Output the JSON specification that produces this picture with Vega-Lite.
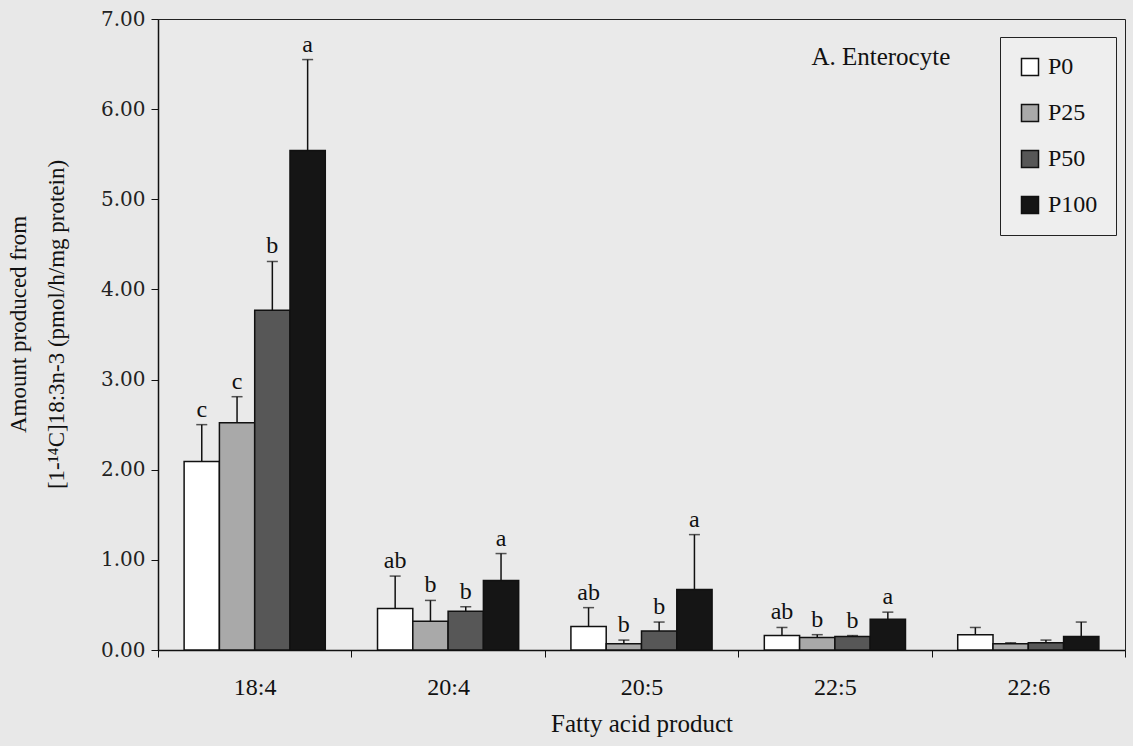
{
  "$schema": "https://vega.github.io/schema/vega-lite/v6.json",
  "autosize": {"type": "none"},
  "width": 967,
  "height": 631,
  "padding": {"left": 158, "top": 19, "right": 8, "bottom": 96},
  "background": "#e8e8e8",
  "config": {
    "view": {"stroke": "#222222", "strokeWidth": 1, "fill": "#eaeaea"},
    "font": "Liberation Serif"
  },
  "datasets": {
    "products": [
      {"product": "18:4", "diet": "P0", "value": 2.09, "err": 2.50, "label": "c"},
      {"product": "18:4", "diet": "P25", "value": 2.52, "err": 2.81, "label": "c"},
      {"product": "18:4", "diet": "P50", "value": 3.77, "err": 4.31, "label": "b"},
      {"product": "18:4", "diet": "P100", "value": 5.54, "err": 6.55, "label": "a"},
      {"product": "20:4", "diet": "P0", "value": 0.46, "err": 0.82, "label": "ab"},
      {"product": "20:4", "diet": "P25", "value": 0.32, "err": 0.55, "label": "b"},
      {"product": "20:4", "diet": "P50", "value": 0.43, "err": 0.48, "label": "b"},
      {"product": "20:4", "diet": "P100", "value": 0.77, "err": 1.07, "label": "a"},
      {"product": "20:5", "diet": "P0", "value": 0.26, "err": 0.47, "label": "ab"},
      {"product": "20:5", "diet": "P25", "value": 0.07, "err": 0.11, "label": "b"},
      {"product": "20:5", "diet": "P50", "value": 0.21, "err": 0.31, "label": "b"},
      {"product": "20:5", "diet": "P100", "value": 0.67, "err": 1.28, "label": "a"},
      {"product": "22:5", "diet": "P0", "value": 0.16, "err": 0.25, "label": "ab"},
      {"product": "22:5", "diet": "P25", "value": 0.14, "err": 0.17, "label": "b"},
      {"product": "22:5", "diet": "P50", "value": 0.15, "err": 0.16, "label": "b"},
      {"product": "22:5", "diet": "P100", "value": 0.34, "err": 0.42, "label": "a"},
      {"product": "22:6", "diet": "P0", "value": 0.17, "err": 0.25, "label": ""},
      {"product": "22:6", "diet": "P25", "value": 0.07, "err": 0.08, "label": ""},
      {"product": "22:6", "diet": "P50", "value": 0.08, "err": 0.11, "label": ""},
      {"product": "22:6", "diet": "P100", "value": 0.15, "err": 0.31, "label": ""}
    ],
    "panel": [{"note": "A. Enterocyte"}]
  },
  "layer": [
    {
      "data": {"name": "products"},
      "encoding": {
        "x": {
          "field": "product",
          "type": "nominal",
          "sort": ["18:4", "20:4", "20:5", "22:5", "22:6"],
          "scale": {"paddingInner": 0, "paddingOuter": 0},
          "axis": {
            "title": "Fatty acid product",
            "labelAngle": 0,
            "tickBand": "extent",
            "tickSize": 7,
            "tickColor": "#111111",
            "tickWidth": 1,
            "domainColor": "#111111",
            "domainWidth": 1.5,
            "labelFont": "Liberation Serif",
            "labelFontSize": 24,
            "labelColor": "#111111",
            "labelPadding": 18,
            "titleFont": "Liberation Serif",
            "titleFontSize": 25,
            "titleFontWeight": "normal",
            "titleColor": "#111111",
            "titlePadding": 12
          }
        },
        "xOffset": {
          "field": "diet",
          "type": "nominal",
          "sort": ["P0", "P25", "P50", "P100"],
          "scale": {"paddingInner": 0, "paddingOuter": 0.74}
        },
        "y": {
          "field": "value",
          "type": "quantitative",
          "scale": {"domain": [0, 7], "nice": false},
          "axis": {
            "values": [0, 1, 2, 3, 4, 5, 6, 7],
            "format": ".2f",
            "grid": false,
            "tickSize": 7,
            "tickColor": "#111111",
            "domainColor": "#111111",
            "domainWidth": 1.5,
            "labelFont": "DejaVu Serif",
            "labelFontSize": 20,
            "labelColor": "#222222",
            "labelPadding": 6,
            "title": ["Amount produced from", "[1-¹⁴C]18:3n-3 (pmol/h/mg protein)"],
            "titleFont": "Liberation Serif",
            "titleFontSize": 23,
            "titleFontWeight": "normal",
            "titleColor": "#111111",
            "titleAngle": 270,
            "titleAlign": "center",
            "titleBaseline": "alphabetic",
            "titleLineHeight": 38,
            "titleX": -133,
            "titleY": 305
          }
        }
      },
      "layer": [
        {
          "mark": {"type": "bar", "stroke": "#111111", "strokeWidth": 1.5},
          "encoding": {
            "fill": {
              "field": "diet",
              "type": "nominal",
              "sort": ["P0", "P25", "P50", "P100"],
              "scale": {
                "domain": ["P0", "P25", "P50", "P100"],
                "range": ["#ffffff", "#a9a9a9", "#575757", "#151515"]
              },
              "legend": {
                "title": null,
                "orient": "none",
                "legendX": 842,
                "legendY": 18,
                "padding": 18,
                "strokeColor": "#222222",
                "fillColor": "#eeeeee",
                "symbolType": "square",
                "symbolSize": 289,
                "symbolStrokeColor": "#111111",
                "symbolStrokeWidth": 1.5,
                "labelFont": "Liberation Serif",
                "labelFontSize": 24,
                "labelColor": "#111111",
                "labelOffset": 6,
                "rowPadding": 22
              }
            }
          }
        },
        {
          "mark": {"type": "rule", "color": "#111111", "strokeWidth": 1.5},
          "encoding": {"y2": {"field": "err"}}
        },
        {
          "mark": {"type": "tick", "color": "#111111", "size": 11, "thickness": 1.5},
          "encoding": {"y": {"field": "err", "type": "quantitative"}}
        },
        {
          "mark": {"type": "text", "font": "Liberation Serif", "fontSize": 24, "color": "#111111", "baseline": "alphabetic", "dy": -8},
          "encoding": {
            "y": {"field": "err", "type": "quantitative"},
            "text": {"field": "label"}
          }
        }
      ]
    },
    {
      "data": {"name": "panel"},
      "mark": {"type": "text", "font": "Liberation Serif", "fontSize": 25, "color": "#111111", "align": "center", "baseline": "middle", "dx": -7},
      "encoding": {
        "x": {"datum": "22:5"},
        "xOffset": {"datum": "P100"},
        "y": {"datum": 6.58},
        "text": {"field": "note"}
      }
    }
  ]
}
